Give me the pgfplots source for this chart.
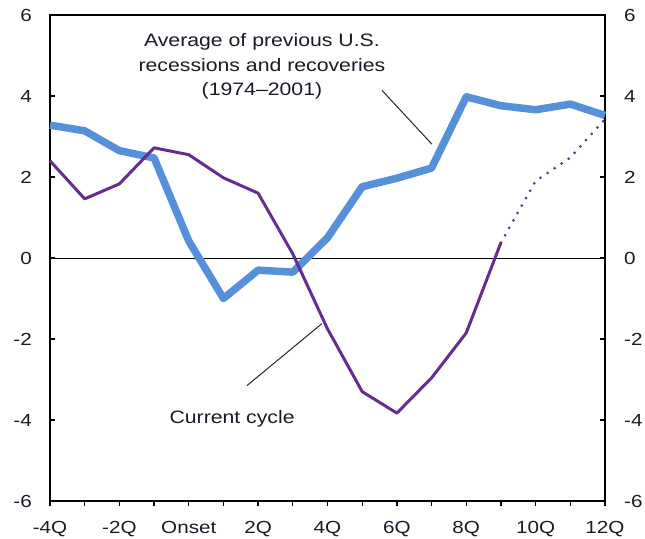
\documentclass[border=0pt]{standalone}
\usepackage{fontspec}
\setmainfont{Liberation Sans}[FakeStretch=1.18]
\usepackage{pgfplots}
\pgfplotsset{compat=1.18}
\definecolor{avgblue}{HTML}{5590D8}
\definecolor{curpurple}{HTML}{662D91}
\definecolor{txt}{HTML}{1A1A28}
\begin{document}
\begin{tikzpicture}
\begin{axis}[
  scale only axis, width=555pt, height=486pt,
  xmin=-4, xmax=12, ymin=-6, ymax=6,
  axis line style={line width=2pt, black},
  tick align=outside,
  xtick={-4,...,12},
  xticklabels={-4Q,,-2Q,,Onset,,2Q,,4Q,,6Q,,8Q,,10Q,,12Q},
  xtick pos=left,
  ytick=\empty,
  major tick length=5pt,
  tick style={line width=1.3pt, black},
  xticklabel style={font=\fontsize{17.5}{20}\selectfont, text=txt, inner sep=0pt, anchor=north, yshift=-15pt},
  clip=false,
]
\coordinate (sw) at (rel axis cs:0,0);
\coordinate (ne) at (rel axis cs:1,1);
\addplot[black, line width=0.9pt] coordinates {(-4,0) (12,0)};
\addplot[avgblue, line width=7.5pt, line join=round] coordinates {
  (-4,3.28) (-3,3.14) (-2,2.65) (-1,2.47) (0,0.42) (1,-1.0) (2,-0.3) (3,-0.35)
  (4,0.5) (5,1.76) (6,1.97) (7,2.22) (8,3.98) (9,3.76) (10,3.66) (11,3.8) (12,3.52)};
\addplot[curpurple, line width=3pt, line join=round] coordinates {
  (-4,2.4) (-3,1.46) (-2,1.83) (-1,2.72) (0,2.55) (1,1.98) (2,1.6) (3,0.1)
  (4,-1.75) (5,-3.3) (6,-3.83) (7,-2.96) (8,-1.85) (9,0.38)};
\addplot[curpurple, line width=3pt, line cap=round, dash pattern=on 0pt off 8.5pt] coordinates {
  (9,0.38) (10,1.9) (11,2.48) (12,3.43)};
\node[align=center, text=txt, font=\fontsize{18}{24.5}\selectfont] at (axis cs:2.11,4.73)
  {Average of previous U.S.\\recessions and recoveries\\(1974--2001)};
\draw[line width=1pt, black!85] (axis cs:5.57,4.14) -- (axis cs:7.01,2.81);
\node[text=txt, font=\fontsize{18}{22}\selectfont] at (axis cs:1.25,-3.98) {Current cycle};
\draw[line width=1pt, black!85] (axis cs:1.68,-3.15) -- (axis cs:3.84,-1.62);
\end{axis}
\begin{axis}[
  scale only axis, width=555pt, height=486pt,
  xmin=-4, xmax=12, ymin=-6, ymax=6,
  axis line style={draw=none},
  xtick=\empty,
  ytick={-6,-4,...,6},
  tick align=inside,
  ytick pos=both,
  yticklabel pos=left,
  major tick length=5pt,
  tick style={line width=1.3pt, black},
  /pgf/number format/assume math mode=true,
  yticklabel style={font=\fontsize{17.5}{20}\selectfont, text=txt, inner sep=0pt, anchor=east, xshift=-18pt},
]
\end{axis}
\begin{axis}[
  scale only axis, width=555pt, height=486pt,
  xmin=-4, xmax=12, ymin=-6, ymax=6,
  axis line style={draw=none},
  xtick=\empty,
  ytick={-6,-4,...,6},
  ytick pos=right,
  yticklabel pos=right,
  major tick length=0pt,
  /pgf/number format/assume math mode=true,
  yticklabel style={font=\fontsize{17.5}{20}\selectfont, text=txt, inner sep=0pt, anchor=west, xshift=19pt},
]
\end{axis}
\pgfresetboundingbox
\path ([shift={(-50pt,-38pt)}]sw) rectangle ([shift={(40pt,15pt)}]ne);
\end{tikzpicture}
\end{document}
